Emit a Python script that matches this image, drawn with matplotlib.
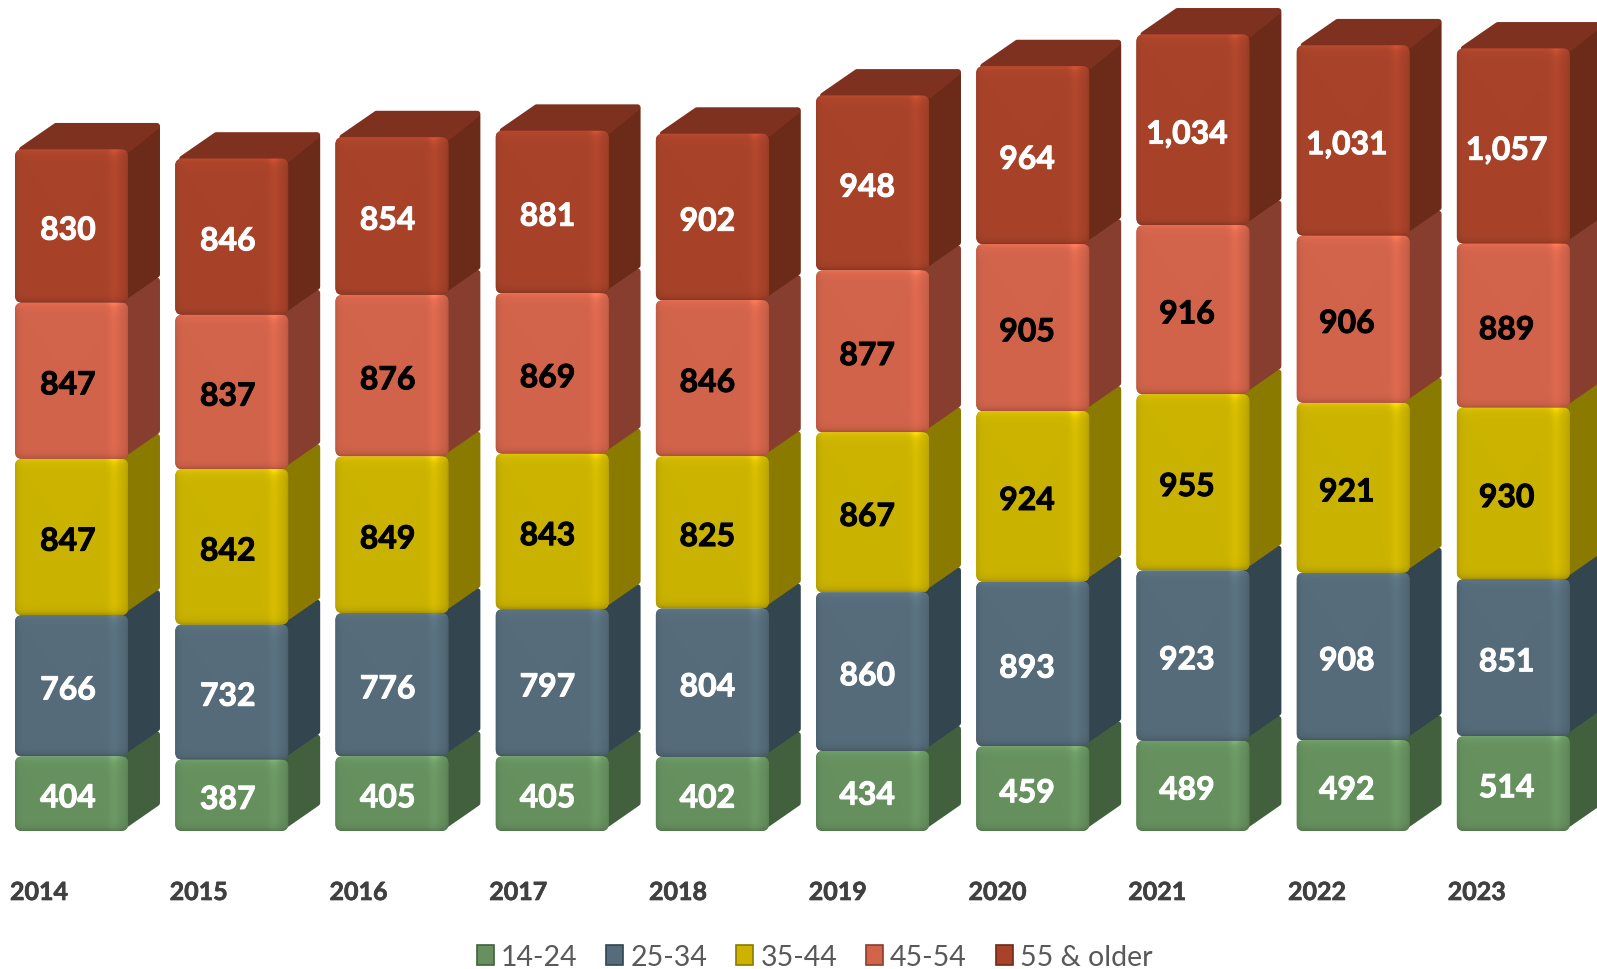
import numpy as np
import matplotlib
matplotlib.use("Agg")
import matplotlib.pyplot as plt
import matplotlib.patheffects as pe
from matplotlib.path import Path
from matplotlib.patches import PathPatch, Polygon, Patch
from matplotlib.transforms import ScaledTranslation

plt.rcParams["font.family"] = ["Lato", "DejaVu Sans"]

years = ["2014", "2015", "2016", "2017", "2018", "2019", "2020", "2021", "2022", "2023"]
age_14_24 = [404, 387, 405, 405, 402, 434, 459, 489, 492, 514]
age_25_34 = [766, 732, 776, 797, 804, 860, 893, 923, 908, 851]
age_35_44 = [847, 842, 849, 843, 825, 867, 924, 955, 921, 930]
age_45_54 = [847, 837, 876, 869, 846, 877, 905, 916, 906, 889]
age_55_up = [830, 846, 854, 881, 902, 948, 964, 1034, 1031, 1057]

series = [age_14_24, age_25_34, age_35_44, age_45_54, age_55_up]
names = ["14-24", "25-34", "35-44", "45-54", "55 & older"]
front_cols = ["#66915F", "#566C7A", "#CBB300", "#D2644B", "#A8432A"]
side_cols = ["#42603E", "#33464F", "#8A7A00", "#873E2F", "#6C2A18"]
text_cols = ["white", "white", "black", "black", "white"]
top_col = "#7F3120"

# scales of the picture, pixels per data unit
PX_X = 160.2
PX_Y = 0.1845
BASE_PX = 832
W, H = 1597, 970

bar_w = 113 / PX_X
depth_x = 32 / PX_X
depth_y = 25 / PX_Y
top_y = 26.5 / PX_Y
rx = 7 / PX_X
ry = 7 / PX_Y
in_x = 3 / PX_X
in_y = 3 / PX_Y


def face_path(x0, x1, y0, y1):
    verts = [(x0 + rx, y0), (x1 - rx, y0), (x1, y0), (x1, y0 + ry), (x1, y1 - ry), (x1, y1),
             (x1 - rx, y1), (x0 + rx, y1), (x0, y1), (x0, y1 - ry), (x0, y0 + ry), (x0, y0),
             (x0 + rx, y0), (x0 + rx, y0)]
    codes = [Path.MOVETO, Path.LINETO, Path.CURVE3, Path.CURVE3, Path.LINETO, Path.CURVE3, Path.CURVE3,
             Path.LINETO, Path.CURVE3, Path.CURVE3, Path.LINETO, Path.CURVE3, Path.CURVE3, Path.CLOSEPOLY]
    return Path(verts, codes)


def bevel(col, w_px, h_px):
    # soft lit edges of the front face
    base = np.array(matplotlib.colors.to_rgb(col))
    u = np.arange(w_px) + 0.5
    v = np.arange(h_px) + 0.5
    hor = 1 - 0.10 * np.exp(-u / 3) + 0.06 * np.exp(-((u - (w_px - 14)) / 5) ** 2) - 0.12 * np.exp(-(w_px - u) / 3)
    ver = 1 + 0.12 * np.exp(-v / 4) - 0.20 * np.exp(-(h_px - v) / 3)
    spot = 0.14 * np.outer(np.exp(-v / 5), np.exp(-((u - (w_px - 14)) / 5) ** 2))
    img = (np.outer(ver, hor) + spot)[:, :, None] * base
    return np.clip(img, 0, 1)


fig = plt.figure(figsize=(W / 100, H / 100), dpi=100)
ax = fig.add_axes([0, (H - BASE_PX) / H, 1, BASE_PX / H])

for i in range(len(years)):
    left = i - bar_w / 2
    right = i + bar_w / 2
    bottom = 0
    for s in range(len(series)):
        val = series[s][i]
        top = bottom + val
        side = Polygon([(right - rx, bottom + in_y), (right + depth_x - in_x, bottom + depth_y + in_y),
                        (right + depth_x - in_x, top + depth_y - in_y), (right - rx, top - in_y)],
                       closed=True, facecolor=side_cols[s], edgecolor=side_cols[s],
                       linewidth=4.3, joinstyle="round", zorder=2 + s * 0.1)
        ax.add_patch(side)
        if s == len(series) - 1:
            cap = Polygon([(left + rx, top), (left + depth_x + 3 * in_x, top + top_y - in_y),
                           (right + depth_x - in_x, top + top_y - in_y), (right, top)],
                          closed=True, facecolor=top_col, edgecolor=top_col,
                          linewidth=4.3, joinstyle="round", zorder=2.6)
            ax.add_patch(cap)
        patch = PathPatch(face_path(left, right, bottom, top), facecolor=front_cols[s], edgecolor="none", zorder=3)
        ax.add_patch(patch)
        img = bevel(front_cols[s], 113, int(val * PX_Y))
        im = ax.imshow(img, extent=(left, right, bottom, top), aspect="auto", origin="upper",
                       interpolation="bilinear", zorder=3.1)
        im.set_clip_path(patch)
        ax.annotate(f"{val:,}", (i, bottom + val / 2), xytext=(-2.5 - 0.25 * i, -3), textcoords="offset points",
                    ha="center", va="center", fontsize=23, fontweight="bold", color=text_cols[s], zorder=5,
                    path_effects=[pe.withStroke(linewidth=0.7, foreground=text_cols[s])])
        bottom = top

ax.set_xlim(-71.5 / PX_X, (W - 71.5) / PX_X)
ax.set_ylim(0, BASE_PX / PX_Y)
for sp in ax.spines.values():
    sp.set_visible(False)
ax.set_yticks([])
ax.set_xticks(range(len(years)))
ax.set_xticklabels(years, fontsize=18, fontweight="bold", color="#404040")
ax.tick_params(axis="x", length=0, pad=36)
for i, lab in enumerate(ax.get_xticklabels()):
    shift = ScaledTranslation((-32.5 - 0.45 * i) / 100, 0, fig.dpi_scale_trans)
    lab.set_transform(lab.get_transform() + shift)
    lab.set_path_effects([pe.withStroke(linewidth=0.5, foreground="#404040")])

handles = [Patch(facecolor=front_cols[k], edgecolor=side_cols[k], linewidth=1.2) for k in range(len(names))]
fig.legend(handles, names, loc="center", bbox_to_anchor=(0.51, 0.0125), ncols=5, frameon=False,
           prop={"size": 20.5}, labelcolor="#595959",
           handlelength=0.6, handleheight=0.7, handletextpad=0.25, columnspacing=1.01, borderpad=0)

fig.savefig("out.png", dpi=100)
